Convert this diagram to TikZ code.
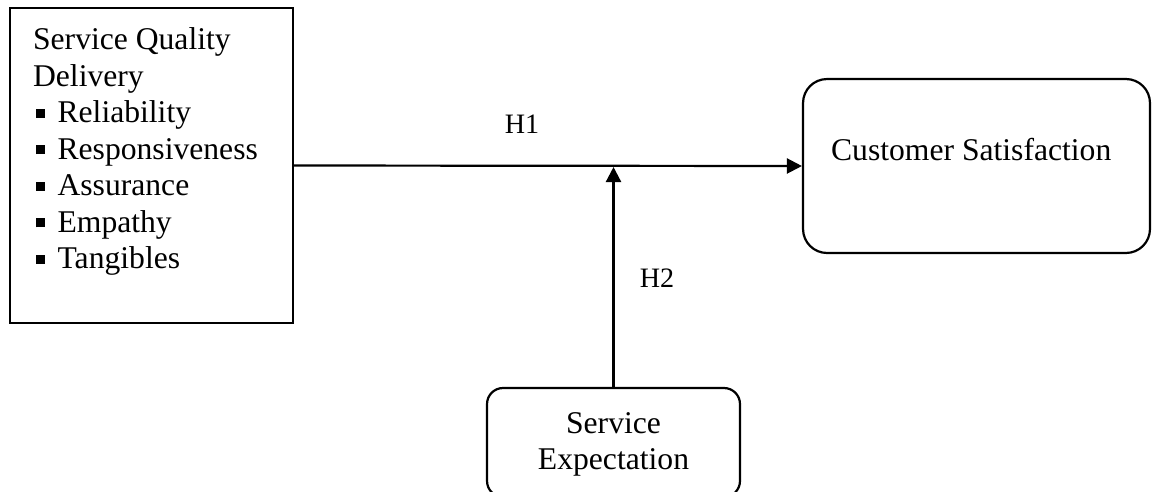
\documentclass[tikz,border=0pt]{standalone}
\usepackage{fontspec}
\setmainfont{Liberation Serif}
\usetikzlibrary{arrows.meta}
\newcommand{\sqbul}{\hspace{0.06cm}\rule[0.1cm]{0.17cm}{0.18cm}\hspace{0.26cm}}

\begin{document}
\begin{tikzpicture}[x=0.02cm, y=-0.02cm, line width=1.25pt,
    big/.style={font=\fontsize{18pt}{20.8pt}\selectfont, inner sep=0pt},
    hyp/.style={font=\fontsize{16pt}{19pt}\selectfont, inner sep=0pt},
    head/.style={-{Triangle[length=0.3cm, width=0.3cm]}}]
    \clip (0,0) rectangle (1152,491);
    \node[draw, minimum width=5.66cm, minimum height=6.3cm] (sqd) at (151.5,165.5) {};
    \node[big, anchor=north west, align=left] (sqdtext) at (32,26.5) {Service Quality\\Delivery\\\sqbul Reliability\\\sqbul Responsiveness\\\sqbul Assurance\\\sqbul Empathy\\\sqbul Tangibles};
    \node[draw, rounded corners=0.48cm, minimum width=6.94cm, minimum height=3.48cm] (cs) at (976.5,166) {};
    \node[big, anchor=base west] (cstext) at (830,160) {Customer Satisfaction};
    \node[draw, rounded corners=0.32cm, minimum width=5.06cm, minimum height=2.18cm] (se) at (613.5,442.5) {};
    \node[big, anchor=north, align=center] (setext) at (613.5,411) {Service\\Expectation};
    \coordinate (junc) at (613.5,167);
    \draw[head] (sqd.east) -- (cs.west);
    \draw[head] (se.north) -- (junc);
    \node[hyp, anchor=base] (h1) at (522,133) {H1};
    \node[hyp, anchor=base] (h2) at (657,287) {H2};
\end{tikzpicture}
\end{document}
